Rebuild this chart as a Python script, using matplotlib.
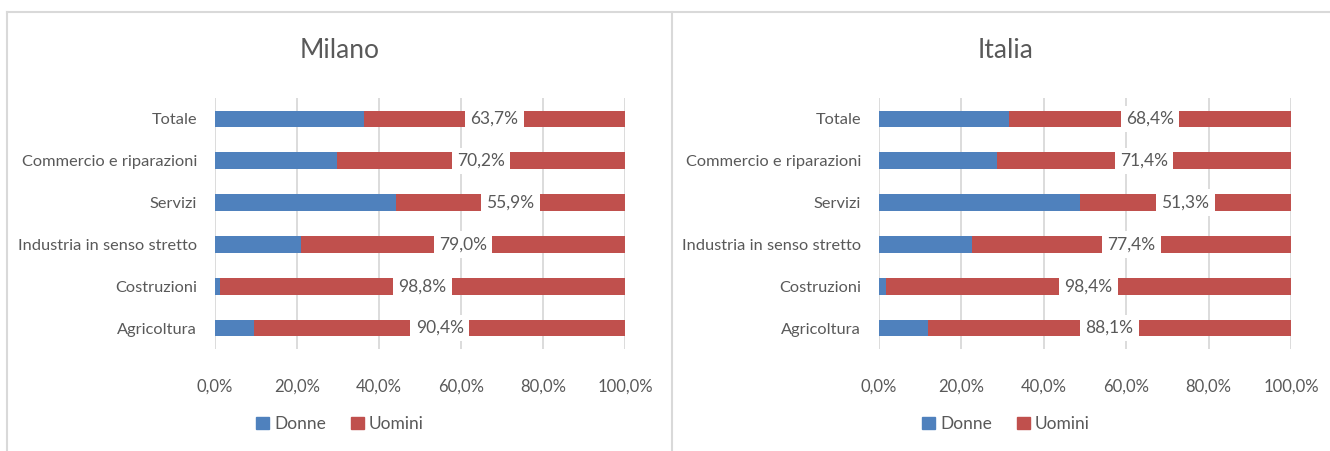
import matplotlib
matplotlib.use("Agg")
import matplotlib.pyplot as plt
from matplotlib import font_manager
from matplotlib.patches import Patch
from matplotlib.lines import Line2D
from matplotlib.ticker import FuncFormatter

# Dati
settori = ["Agricoltura", "Costruzioni", "Industria in senso stretto",
           "Servizi", "Commercio e riparazioni", "Totale"]
milano_donne = [9.6, 1.2, 21.0, 44.1, 29.8, 36.3]
milano_uomini = [90.4, 98.8, 79.0, 55.9, 70.2, 63.7]
italia_donne = [11.9, 1.6, 22.6, 48.7, 28.6, 31.6]
italia_uomini = [88.1, 98.4, 77.4, 51.3, 71.4, 68.4]
titoli = ["Milano", "Italia"]
legenda = ["Donne", "Uomini"]

# Font: uno stretto se c'è
nomi = {f.name for f in font_manager.fontManager.ttflist}
font = "Liberation Sans Narrow" if "Liberation Sans Narrow" in nomi else "Lato"
plt.rcParams["font.family"] = [font, "DejaVu Sans"]

blu = "#4F81BD"
rosso = "#C0504D"
testo = "#595959"
griglia = "#D9D9D9"

W, H = 1330, 451
fig = plt.figure(figsize=(W / 100, H / 100), dpi=100)

pannelli = [
    (titoli[0], milano_donne, milano_uomini, 215, 625, 340),
    (titoli[1], italia_donne, italia_uomini, 879, 1291, 1006),
]

for titolo, donne, uomini, x0, x1, xc in pannelli:
    ax = fig.add_axes([x0 / W, 1 - 349 / H, (x1 - x0) / W, (349 - 98) / H])
    y = range(len(settori))
    ax.barh(y, donne, height=0.4, color=blu, zorder=2)
    ax.barh(y, uomini, left=donne, height=0.4, color=rosso, zorder=2)

    # etichette percentuali uomini
    for i in y:
        centro = donne[i] + uomini[i] / 2
        ax.text(centro, i, f"{uomini[i]:.1f}%".replace(".", ","),
                ha="center", va="center", fontsize=12.5, color=testo, zorder=3,
                bbox=dict(boxstyle="square,pad=0.3", fc="white", ec="none"))

    ax.set_xlim(0, 100)
    ax.set_ylim(-0.5, len(settori) - 0.5)
    ax.set_xticks([0, 20, 40, 60, 80, 100])
    ax.xaxis.set_major_formatter(
        FuncFormatter(lambda v, p: f"{v:.1f}%".replace(".", ",")))
    ax.set_yticks(list(y))
    ax.set_yticklabels(settori)
    ax.tick_params(axis="x", length=0, pad=21, labelsize=12, labelcolor=testo)
    ax.tick_params(axis="y", length=0, pad=13, labelsize=11.8, labelcolor=testo)
    ax.grid(axis="x", color=griglia, linewidth=1.3, zorder=0)
    for s in ax.spines.values():
        s.set_visible(False)

    fig.text(xc / W, 1 - 50 / H, titolo, ha="center", va="center",
             fontsize=19, color=testo)
    fig.legend(handles=[Patch(color=blu, label=legenda[0]),
                        Patch(color=rosso, label=legenda[1])],
               loc="center", bbox_to_anchor=(xc / W, 1 - 424 / H),
               ncol=2, frameon=False, fontsize=12.5, labelcolor=testo,
               handlelength=0.75, handleheight=0.75, handletextpad=0.3,
               columnspacing=1.4)

# cornici dei pannelli
bordo = "#D9D9D9"
fig.add_artist(Line2D([7 / W, 1], [1 - 12 / H, 1 - 12 / H], color=bordo, lw=1.5))
fig.add_artist(Line2D([7 / W, 7 / W], [0, 1 - 12 / H], color=bordo, lw=1.5))
fig.add_artist(Line2D([672 / W, 672 / W], [0, 1 - 12 / H], color=bordo, lw=1.5))

fig.savefig("out.png", dpi=100, facecolor="white")
